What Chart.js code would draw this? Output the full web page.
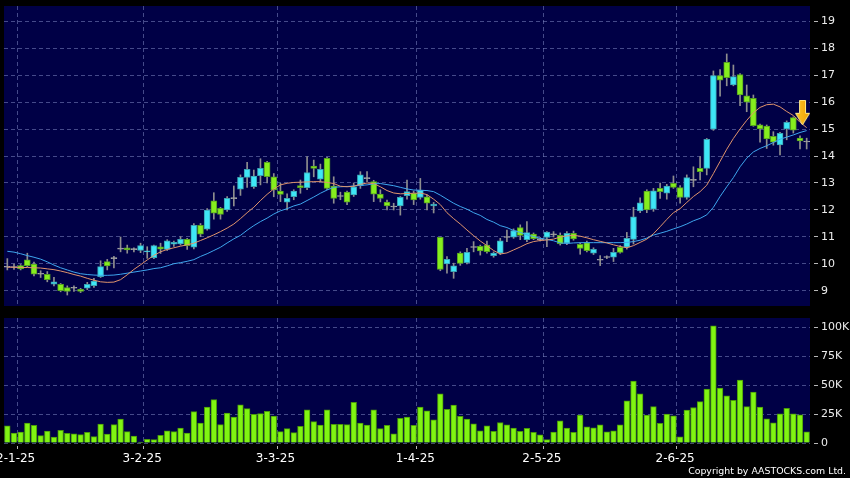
<!DOCTYPE html>
<html>
<head>
<meta charset="utf-8">
<script src="https://cdn.jsdelivr.net/npm/chart.js@4.4.1/dist/chart.umd.min.js"></script>
<style>
  body { margin: 0; background: #000; width: 850px; height: 478px; overflow: hidden; position: relative; }
  canvas { display: block; }
  #copyright { position: absolute; right: 4px; top: 465px; color: #fff; font: 9.4px "DejaVu Sans", sans-serif; }
</style>
</head>
<body>
<canvas id="grafico-precio" width="850" height="312"></canvas>
<canvas id="grafico-volumen" width="850" height="166"></canvas>
<div id="copyright">Copyright by AASTOCKS.com Ltd.</div>
<script>
// Dias de negociacion por mes (mes, anio, dias)
const diasPorMes = [
    ['12', '24', [30, 31]],
    ['1', '25', [2, 3, 6, 7, 8, 9, 10, 13, 14, 15, 16, 17, 20, 21, 22, 23, 24, 27, 28]],
    ['2', '25', [3, 4, 5, 6, 7, 10, 11, 12, 13, 14, 17, 18, 19, 20, 21, 24, 25, 26, 27, 28]],
    ['3', '25', [3, 4, 5, 6, 7, 10, 11, 12, 13, 14, 17, 18, 19, 20, 21, 24, 25, 26, 27, 28, 31]],
    ['4', '25', [1, 2, 3, 7, 8, 9, 10, 11, 14, 15, 16, 17, 22, 23, 24, 25, 28, 29, 30]],
    ['5', '25', [2, 6, 7, 8, 9, 12, 13, 14, 15, 16, 19, 20, 21, 22, 23, 26, 27, 28, 29, 30]],
    ['6', '25', [2, 3, 4, 5, 6, 9, 10, 11, 12, 13, 16, 17, 18, 19, 20, 23, 24, 25, 26, 27]]
];

// Etiquetas que se ven en el eje X
const etiquetasEje = ['2-1-25', '3-2-25', '3-3-25', '1-4-25', '2-5-25', '2-6-25'];

const apertura = [
    9.88, 9.87, 9.94, 10.15, 10.0, 9.63, 9.62, 9.25, 9.25, 9.13,
    9.1, 9.06, 9.1, 9.2, 9.53, 10.09, 10.2, 10.55, 10.6, 10.53,
    10.5, 10.45, 10.23, 10.64, 10.54, 10.73, 10.74, 10.91, 10.62, 11.43,
    11.29, 12.34, 12.06, 12.0, 12.42, 12.77, 13.21, 12.86, 13.27, 13.77,
    13.23, 12.7, 12.29, 12.49, 12.9, 12.83, 13.63, 13.14, 13.91, 12.89,
    12.5, 12.66, 12.56, 12.9, 13.16, 13.05, 12.59, 12.29, 12.11, 12.15,
    12.53, 12.62, 12.47, 12.49, 12.15, 10.99, 10.0, 9.72, 10.4, 10.05,
    10.61, 10.65, 10.7, 10.31, 10.4, 10.98, 10.99, 11.35, 10.9, 11.11,
    10.9, 10.98, 11.08, 11.06, 10.77, 11.14, 10.73, 10.79, 10.4, 10.14,
    10.24, 10.25, 10.62, 10.62, 10.91, 11.97, 12.7, 12.03, 12.8, 12.62,
    12.99, 12.83, 12.47, 13.1, 13.54, 13.54, 14.99, 16.98, 17.47, 16.63,
    17.02, 16.23, 16.14, 15.15, 15.11, 14.73, 14.41, 15.0, 15.42, 14.66,
    14.52
];
const maximo = [
    10.2, 10.0, 9.98, 10.4, 10.07, 9.75, 9.72, 9.51, 9.28, 9.19,
    9.19, 9.1, 9.32, 9.47, 10.12, 10.17, 10.28, 11.0, 10.7, 10.6,
    10.77, 10.64, 10.7, 10.77, 10.9, 10.85, 11.01, 10.95, 11.5, 11.5,
    12.05, 12.64, 12.1, 12.5, 12.89, 13.3, 13.77, 13.48, 13.9, 13.8,
    13.35, 12.99, 12.6, 12.75, 13.11, 13.98, 13.85, 13.7, 13.95, 13.23,
    12.66, 12.7, 13.0, 13.42, 13.42, 13.1, 12.75, 12.37, 12.25, 12.5,
    13.11, 12.7, 13.17, 12.55, 12.28, 11.0, 10.27, 10.03, 10.45, 10.58,
    10.83, 10.7, 10.85, 10.45, 10.95, 11.26, 11.3, 11.45, 11.57, 11.15,
    10.98, 11.2, 11.2, 11.15, 11.2, 11.22, 10.78, 10.85, 10.6, 10.31,
    10.3, 10.58, 10.68, 11.17, 12.1, 12.45, 12.75, 12.8, 13.0, 12.95,
    13.26, 12.9, 13.3, 13.6, 13.98, 14.65, 17.15, 17.2, 17.78, 17.37,
    17.05, 16.63, 16.26, 15.18, 15.15, 14.9, 14.88, 15.3, 15.45, 14.75,
    14.66
];
const minimo = [
    9.78, 9.8, 9.78, 9.9, 9.56, 9.5, 9.34, 9.19, 8.97, 8.85,
    8.98, 8.94, 9.05, 9.13, 9.5, 9.78, 9.85, 10.45, 10.4, 10.45,
    10.42, 10.21, 10.2, 10.39, 10.5, 10.65, 10.7, 10.54, 10.56, 11.01,
    11.25, 11.66, 11.66, 11.95, 12.15, 12.54, 12.84, 12.8, 12.93, 13.0,
    12.49, 12.31, 12.0, 12.38, 12.62, 12.75, 13.23, 13.05, 12.75, 12.25,
    12.38, 12.2, 12.5, 12.8, 13.05, 12.31, 12.3, 12.0, 12.0, 11.81,
    12.4, 12.2, 12.4, 12.0, 11.89, 9.75, 9.66, 9.47, 9.95, 10.0,
    10.45, 10.33, 10.4, 10.25, 10.35, 10.83, 10.95, 10.9, 10.83, 10.9,
    10.85, 10.64, 11.0, 10.7, 10.72, 10.88, 10.36, 10.45, 10.35, 9.94,
    10.2, 10.09, 10.4, 10.55, 10.74, 11.9, 11.9, 11.95, 12.43, 12.4,
    12.8, 12.25, 12.4, 12.86, 13.11, 13.3, 14.95, 16.22, 16.6, 16.6,
    15.86, 15.64, 15.1, 14.51, 14.28, 14.4, 14.04, 14.6, 14.85, 14.26,
    14.26
];
const cierre = [
    9.9, 9.89, 9.82, 9.94, 9.62, 9.62, 9.42, 9.34, 9.01, 8.98,
    9.12, 8.98, 9.25, 9.37, 9.9, 9.93, 10.22, 10.58, 10.52, 10.55,
    10.68, 10.49, 10.68, 10.55, 10.86, 10.8, 10.91, 10.68, 11.43, 11.1,
    12.0, 11.88, 11.84, 12.43, 12.44, 13.21, 13.51, 13.26, 13.54, 13.23,
    12.74, 12.58, 12.43, 12.7, 12.83, 13.39, 13.54, 13.51, 12.8, 12.43,
    12.52, 12.29, 12.86, 13.3, 13.18, 12.59, 12.43, 12.15, 12.13, 12.47,
    12.68, 12.37, 12.74, 12.25, 12.22, 9.8, 10.17, 9.93, 10.02, 10.43,
    10.63, 10.48, 10.46, 10.4, 10.86, 11.0, 11.24, 11.06, 11.16, 10.94,
    10.92, 11.18, 11.1, 10.75, 11.14, 10.93, 10.58, 10.49, 10.54, 10.16,
    10.26, 10.43, 10.43, 10.95, 11.75, 12.27, 12.0, 12.71, 12.68, 12.89,
    12.84, 12.47, 13.2, 13.12, 13.42, 14.62, 16.98, 16.81, 16.9, 16.94,
    16.26, 15.99, 15.12, 15.0, 14.63, 14.51, 14.84, 15.25, 14.96, 14.56,
    14.54
];

// Medias moviles
const mediaCorta = [
    9.88, 9.88, 9.87, 9.87, 9.86, 9.85, 9.82, 9.79, 9.74, 9.68,
    9.61, 9.55, 9.47, 9.4, 9.34, 9.32, 9.33, 9.42, 9.6, 9.8,
    9.97, 10.15, 10.32, 10.45, 10.54, 10.6, 10.66, 10.71, 10.77, 10.87,
    10.97, 11.08, 11.2, 11.33, 11.48, 11.68, 11.9, 12.1, 12.35, 12.58,
    12.78, 12.93, 12.99, 13.02, 13.03, 13.04, 13.05, 13.05, 13.02, 12.98,
    12.88, 12.86, 12.88, 12.95, 13.0, 12.98, 12.86, 12.72, 12.63, 12.6,
    12.61, 12.62, 12.63, 12.57, 12.4, 12.2, 11.9, 11.68, 11.48, 11.26,
    11.05, 10.85, 10.68, 10.5, 10.37, 10.41, 10.52, 10.63, 10.75, 10.83,
    10.87, 10.89, 10.92, 11.0, 11.04, 11.06, 11.03, 10.97, 10.9, 10.84,
    10.78, 10.71, 10.65, 10.6, 10.68, 10.8, 10.92, 11.12, 11.38, 11.65,
    11.9, 12.05, 12.28, 12.5, 12.68, 12.92, 13.35, 13.8, 14.25, 14.65,
    15.0, 15.32, 15.6, 15.8, 15.9, 15.92, 15.82, 15.65, 15.5, 15.25,
    15.05
];
const mediaLarga = [
    10.47, 10.44, 10.38, 10.31, 10.25, 10.18, 10.08, 9.96, 9.86, 9.78,
    9.7, 9.64, 9.61, 9.59, 9.58, 9.58, 9.59, 9.62, 9.66, 9.7,
    9.74, 9.78, 9.83, 9.86, 9.93, 10.01, 10.05, 10.1, 10.16, 10.28,
    10.38, 10.5, 10.62, 10.78, 10.93, 11.06, 11.25, 11.42, 11.57, 11.7,
    11.85, 11.97, 12.05, 12.15, 12.22, 12.35, 12.48, 12.62, 12.74, 12.84,
    12.86, 12.87, 12.89, 12.91, 12.93, 12.97, 12.98, 12.94, 12.9, 12.84,
    12.78, 12.74, 12.73, 12.72, 12.68, 12.55, 12.4, 12.25, 12.13, 12.03,
    11.9, 11.8, 11.65, 11.55, 11.42, 11.35, 11.24, 11.17, 11.08, 11.02,
    10.95, 10.91, 10.86, 10.78, 10.76, 10.78, 10.79, 10.79, 10.79, 10.79,
    10.79, 10.79, 10.79, 10.8, 10.83, 10.88, 10.96, 11.07, 11.14, 11.21,
    11.3, 11.38, 11.48, 11.6, 11.69, 11.82, 12.1, 12.5, 12.86, 13.2,
    13.6, 13.92, 14.15, 14.28, 14.38, 14.5, 14.62, 14.7, 14.78, 14.87,
    14.94
];

// Volumen en miles
const volumen = [
    14.9, 8.6, 9.5, 17.2, 15.2, 6.3, 10.3, 5.2, 10.9, 8.3,
    8.0, 7.2, 9.2, 5.5, 16.4, 7.8, 15.8, 20.7, 9.8, 6.0,
    0.9, 3.2, 2.9, 6.6, 10.6, 9.8, 12.9, 8.6, 27.0, 17.2,
    31.0, 37.4, 15.8, 25.9, 22.4, 33.0, 29.6, 24.7, 25.3, 27.3,
    23.3, 9.8, 12.4, 8.9, 14.4, 28.5, 18.4, 15.5, 28.7, 16.1,
    16.1, 15.8, 35.1, 17.2, 15.5, 28.7, 12.4, 15.2, 8.0, 21.3,
    22.4, 15.2, 31.0, 27.8, 20.0, 42.3, 29.1, 32.6, 22.9, 20.6,
    16.6, 10.6, 14.9, 10.0, 17.7, 15.7, 12.9, 10.0, 12.6, 9.1,
    7.1, 2.9, 9.4, 19.1, 12.9, 9.1, 24.0, 14.0, 13.1, 15.7,
    9.7, 10.6, 15.7, 36.3, 53.4, 42.3, 24.0, 31.4, 16.9, 24.9,
    23.4, 5.4, 28.3, 30.6, 35.7, 46.6, 101.1, 47.4, 40.6, 36.9,
    54.3, 31.4, 44.0, 30.9, 20.9, 17.4, 25.1, 30.0, 25.1, 24.3,
    9.7
];

const ticksPrecio = [9, 10, 11, 12, 13, 14, 15, 16, 17, 18, 19];
const ticksVolumen = [0, 25, 50, 75, 100];

// Flecha amarilla de senal
const flechaIndice = 119;
const flechaValor = 15.6;

const fechas = [];
diasPorMes.forEach(function (m) {
    m[2].forEach(function (d) { fechas.push(d + '-' + m[0] + '-' + m[1]); });
});

const fondoArea = '#000046';
const colorGrid = 'rgba(125,135,195,0.55)';
const colorTexto = '#ececec';
Chart.defaults.font.family = '"DejaVu Sans", sans-serif';

// Pinta el fondo azul del area del grafico
const pluginFondo = {
    id: 'pluginFondo',
    beforeDraw: function (chart) {
        const a = chart.chartArea;
        chart.ctx.save();
        chart.ctx.fillStyle = fondoArea;
        chart.ctx.fillRect(a.left, a.top, a.right - a.left, a.bottom - a.top);
        chart.ctx.restore();
    }
};

// Quita los margenes que Chart.js deja para las etiquetas
function sinRelleno(s) {
    s.paddingTop = 0; s.paddingBottom = 0; s.paddingLeft = 0; s.paddingRight = 0;
}

function gridFecha(ctx) {
    return etiquetasEje.includes(fechas[ctx.index]) ? colorGrid : 'transparent';
}
function tickFecha(ctx) {
    return etiquetasEje.includes(fechas[ctx.index]) ? '#b8b8b8' : 'transparent';
}

function colorCuerpo(i, borde) {
    const dif = cierre[i] - apertura[i];
    if (Math.abs(dif) < 0.035) return '#a6a6a6';
    if (dif > 0) return borde ? '#3aa3b3' : '#3ee6f6';
    return borde ? '#55a020' : '#86ee1e';
}

function crearFlecha() {
    const c = document.createElement('canvas');
    c.width = 20; c.height = 26;
    const g = c.getContext('2d');
    g.beginPath();
    g.moveTo(9.5, 0.5); g.lineTo(15.5, 0.5); g.lineTo(15.5, 13.5);
    g.lineTo(19.5, 13.5); g.lineTo(12.5, 25); g.lineTo(5.5, 13.5);
    g.lineTo(9.5, 13.5); g.closePath();
    const grad = g.createLinearGradient(0, 0, 20, 0);
    grad.addColorStop(0, '#ffd23c');
    grad.addColorStop(1, '#f0a000');
    g.fillStyle = grad;
    g.fill();
    g.strokeStyle = '#ffe98a';
    g.lineWidth = 1;
    g.stroke();
    return c;
}

window.onload = function () {
    const cuerpos = apertura.map(function (o, i) { return [o, cierre[i]]; });
    const mechas = minimo.map(function (l, i) { return [l, maximo[i]]; });
    const flecha = fechas.map(function (f, i) { return i === flechaIndice ? flechaValor : null; });

    new Chart(document.getElementById('grafico-precio').getContext('2d'), {
        type: 'bar',
        data: {
            labels: fechas,
            datasets: [
                {
                    type: 'line', data: flecha, showLine: false, order: 0,
                    pointStyle: crearFlecha(), pointRadius: 10, clip: false
                },
                {
                    type: 'line', data: mediaCorta, borderColor: '#e0946c', borderWidth: 1,
                    pointRadius: 0, tension: 0, order: 1
                },
                {
                    type: 'line', data: mediaLarga, borderColor: '#3ea6ee', borderWidth: 1,
                    pointRadius: 0, tension: 0, order: 1
                },
                {
                    data: cuerpos, grouped: false, order: 2, barThickness: 6, minBarLength: 1,
                    backgroundColor: cierre.map(function (c, i) { return colorCuerpo(i, false); }),
                    borderColor: cierre.map(function (c, i) { return colorCuerpo(i, true); }),
                    borderWidth: 1, borderSkipped: false
                },
                {
                    data: mechas, grouped: false, order: 3, barThickness: 1,
                    backgroundColor: '#8e8e8e'
                }
            ]
        },
        options: {
            responsive: false,
            animation: false,
            layout: { autoPadding: false, padding: { left: 4, top: 6, bottom: 6, right: 0 } },
            plugins: { legend: { display: false }, tooltip: { enabled: false } },
            scales: {
                x: {
                    offset: true,
                    ticks: { display: false },
                    grid: { offset: true, drawTicks: false, color: gridFecha },
                    border: { display: false, dash: [4, 3] },
                    afterFit: function (s) { s.height = 0; sinRelleno(s); }
                },
                y: {
                    position: 'right',
                    min: 8.444,
                    max: 19.556,
                    afterBuildTicks: function (s) { s.ticks = ticksPrecio.map(function (v) { return { value: v }; }); },
                    afterFit: function (s) { s.width = 40; sinRelleno(s); },
                    ticks: { color: colorTexto, font: { size: 11 }, padding: 3 },
                    grid: {
                        color: colorGrid, tickLength: 8, tickColor: '#b8b8b8',
                        tickBorderDash: [4, 4], tickBorderDashOffset: 4
                    },
                    border: { display: false, dash: [4, 3] }
                }
            }
        },
        plugins: [pluginFondo]
    });

    new Chart(document.getElementById('grafico-volumen').getContext('2d'), {
        type: 'bar',
        data: {
            labels: fechas,
            datasets: [{
                data: volumen,
                backgroundColor: '#80f412',
                borderColor: '#4a9a08',
                borderWidth: 1,
                borderSkipped: 'start',
                barThickness: 5.7
            }]
        },
        options: {
            responsive: false,
            animation: false,
            layout: { autoPadding: false, padding: { left: 4, top: 6, bottom: 0, right: 0 } },
            plugins: { legend: { display: false }, tooltip: { enabled: false } },
            scales: {
                x: {
                    offset: true,
                    afterFit: function (s) { s.height = 35; sinRelleno(s); },
                    ticks: {
                        autoSkip: false, maxRotation: 0, color: '#ffffff', font: { size: 12 },
                        padding: 3, labelOffset: -5,
                        callback: function (v, i) { return etiquetasEje.includes(fechas[i]) ? fechas[i] : ''; }
                    },
                    grid: {
                        offset: true, color: gridFecha, tickColor: tickFecha, tickLength: 6,
                        tickBorderDash: [3, 3], tickBorderDashOffset: 3
                    },
                    border: { display: false, dash: [4, 3] }
                },
                y: {
                    position: 'right',
                    min: 0,
                    max: 107.8,
                    afterBuildTicks: function (s) { s.ticks = ticksVolumen.map(function (v) { return { value: v }; }); },
                    afterFit: function (s) { s.width = 40; sinRelleno(s); },
                    ticks: {
                        color: colorTexto, font: { size: 11 }, padding: 3,
                        callback: function (v) { return v === 0 ? '0' : v + 'K'; }
                    },
                    grid: {
                        color: colorGrid, tickLength: 8, tickColor: '#b8b8b8',
                        tickBorderDash: [4, 4], tickBorderDashOffset: 4
                    },
                    border: { display: false, dash: [4, 3] }
                }
            }
        },
        plugins: [pluginFondo]
    });
};
</script>
</body>
</html>
